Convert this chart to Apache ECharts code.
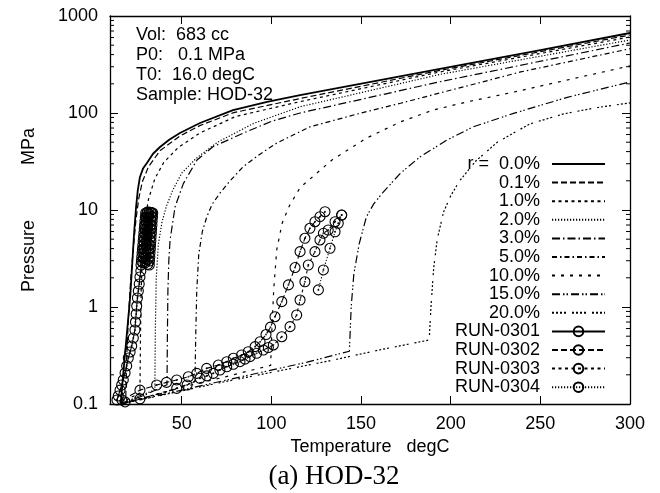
<!DOCTYPE html>
<html>
<head>
<meta charset="utf-8">
<title>HOD-32</title>
<script src="https://cdn.jsdelivr.net/npm/echarts@6.0.0/dist/echarts.min.js"></script>
<style>
  html, body { margin: 0; padding: 0; background: #fff; }
  #main { width: 660px; height: 493px; }
</style>
</head>
<body>
<div id="main"></div>
<script>
// model curves: [temperature degC, pressure MPa]
const r00 = [[16,0.1],[17,0.17],[18.5,0.35],[20,0.7],[21.3,1.3],[22.5,3],[23.5,6],[24.5,10.5],[25.5,16],[26.7,21.9],[28.5,27],[30.6,30.5],[34,38],[37.9,44.6],[43,53],[49,62.2],[60.2,78.9],[78.6,107],[97.6,130],[116,153],[194,285],[250,445],[300,668]]
const r01 = [[16,0.1],[17.5,0.108],[18.8,0.115],[19.3,0.3],[20.3,0.8],[21.6,2],[23,4],[24.5,8],[26,13],[28,19.5],[31.5,28],[38,41],[49,58],[60,74],[79,101],[116,141],[194,275],[300,637]]
const r1 = [[16,0.1],[21,0.115],[26.7,0.13],[27,0.5],[27.4,1.5],[28.2,4],[29.6,8],[31.5,13],[35,21],[40,31],[48,44],[60,62],[80,92],[116,131],[194,265],[300,607]]
const r2 = [[16,0.1],[25,0.118],[35,0.14],[35.3,0.6],[35.8,2],[37,4.5],[39,7.5],[41.5,11],[45,16],[50,24],[58,34],[70,50],[90,78],[116,116],[194,250],[300,566]]
const r3 = [[16,0.1],[30,0.125],[41.8,0.158],[42,0.5],[42.3,1.5],[42.8,3],[43.5,4.9],[46.3,10.8],[50.9,18.7],[58.4,32.6],[67.4,44.8],[84.3,62],[100,82],[116,100],[194,210],[300,527]]
const r5 = [[16,0.1],[40,0.13],[57.4,0.17],[57.8,0.5],[58.4,1.5],[59.5,3.5],[61.5,6],[64,8.5],[67,11.5],[71.4,15],[77,20],[84.3,28],[93,37],[103,49],[121.5,72],[150,100],[172,126],[239,265],[300,460]]
const r10 = [[16,0.1],[57,0.16],[74,0.19],[99.6,0.25],[100.3,0.6],[101.3,1.5],[103,3.9],[106,7.3],[110,11],[116,17],[134,33],[153,55],[172,81],[190,107],[209,130],[235,164],[300,306]]
const r15 = [[16,0.1],[74,0.175],[120,0.27],[143.5,0.35],[144.5,1],[146,2.2],[149,4.5],[153,8.5],[157,11.5],[162,15],[172,24],[183,35.4],[198,52.7],[212.6,72],[235,99],[265,145],[300,209]]
const r20 = [[16,0.1],[74,0.17],[133,0.28],[160,0.36],[188,0.457],[189,1],[190.5,2.5],[192.5,5],[196,9.5],[200,14],[205,20],[214,32],[226,50],[244,77],[263,98],[282,114],[300,127]]

// measured runs
const run0301 = [[13.9,0.110],[14.6,0.121],[15.6,0.139],[16.5,0.157],[17.4,0.177],[18.4,0.209],[19.3,0.247],[20.2,0.298],[21.2,0.344],[22.1,0.396],[23.0,0.479],[23.9,0.579],[24.2,0.700],[24.6,0.847],[24.9,1.023],[25.3,1.238],[25.8,1.462],[26.3,1.726],[26.7,2.04],[27.2,2.35],
  [27.3,2.71],[27.5,2.98],[27.7,3.27],[27.9,3.6],[28.1,3.96],[28.3,4.35],[28.5,4.79],[28.7,5.27],[28.9,5.79],[29.1,6.37],[29.3,7.0],[29.5,7.7],[29.7,8.47],[29.9,9.31],
  [30.8,9.5],[31.8,9.5],[32.8,9.4],
  [33.8,9.31],[33.7,8.47],[33.5,7.7],[33.4,7.0],[33.2,6.37],[33.1,5.79],[32.9,5.27],[32.8,4.79],[32.6,4.35],[32.5,3.96],[32.3,3.6],[32.2,3.27],[32.0,2.98],[31.9,2.71],
  [29.6,2.85],[29.8,3.3],[30.0,3.8],[30.2,4.3],[30.4,4.9],[30.6,5.5],[30.8,6.1],[31.0,6.8],[31.2,7.5],[31.4,8.3],[31.6,9.1],
  [30.6,9.2],[30.4,8.4],[30.2,7.6],[30.0,6.9],[29.8,6.2],[29.6,5.6],[29.4,5.0],[29.2,4.5],[29.0,4.0],[28.8,3.6],[28.6,3.2],[28.4,2.85],
  [31.0,2.75],[31.2,3.1],[31.4,3.5],[31.6,3.9],[31.8,4.4],[32.0,5.0],[32.2,5.6],[32.4,6.3],[32.6,7.0],[32.8,7.8],[33.0,8.6],[33.2,9.4]]
const run0302 = [[16.7,0.110],[26.7,0.139],[36.0,0.157],[41.5,0.167],[47.2,0.177],[53.7,0.191],[58.4,0.207],[63.9,0.233],[70.4,0.252],[75.1,0.273],[78.8,0.296],[83.4,0.320],[87.1,0.346],[90.9,0.390],[93.7,0.439],[97.0,0.52],[99.5,0.62],[102.0,0.794],[105.8,1.135],[109.5,1.69],[113.2,2.55],[116.0,3.72],[118.7,5.11],[121.5,6.48],[124.3,7.57],[127.1,8.53],[129.9,9.6]]
const run0303 = [[18.4,0.105],[26.7,0.113],[47.2,0.145],[53.0,0.157],[60.2,0.184],[64.0,0.195],[67.6,0.207],[71.3,0.224],[75.1,0.242],[78.8,0.257],[82.5,0.273],[85.3,0.29],[88.1,0.308],[91.8,0.333],[95.5,0.360],[98.3,0.382],[101.1,0.406],[105.8,0.494],[110.4,0.627],[114.1,0.827],[116.0,1.18],[118.7,1.82],[120.6,2.71],[124.3,3.72],[127.1,4.91],[129.0,5.75],[131.7,6.22],[135.5,7.57],[139.2,8.87]]
const run0304 = [[126.2,1.5],[129.0,2.41],[132.7,4.03],[135.5,5.97],[137.3,7.29],[139.2,8.87]]

const modelNames = ['r =  0.0%', '0.1%', '1.0%', '2.0%', '3.0%', '5.0%', '10.0%', '15.0%', '20.0%']
const runNames = ['RUN-0301', 'RUN-0302', 'RUN-0303', 'RUN-0304']

const xTicks = [50, 100, 150, 200, 250, 300]
const yTickLabels = ['0.1', '1', '10', '100', '1000']
const yMinorTicks = [0.2,0.3,0.4,0.5,0.6,0.7,0.8,0.9, 2,3,4,5,6,7,8,9, 20,30,40,50,60,70,80,90, 200,300,400,500,600,700,800,900]
const infoLines = ['Vol:  683 cc', 'P0:   0.1 MPa', 'T0:  16.0 degC', 'Sample: HOD-32']

const X_MIN = 10, X_MAX = 300
const FONT = '"Liberation Sans", Arial, sans-serif'

const modelData = [r00, r01, r1, r2, r3, r5, r10, r15, r20]
const runData = [run0301, run0302, run0303, run0304]
const dashes = ['solid', [6, 3], [3, 3.5], [1.2, 1.8], [8, 3, 1.5, 3], [5, 3, 1.5, 3], [3, 6], [8, 3, 1.5, 2, 1.5, 3], [2, 2, 2, 2, 2, 2, 2, 6]]
const runDashes = ['solid', [6, 3], [3, 3.5], [1.2, 1.8]]

const chart = echarts.init(document.getElementById('main'))

const series = []
modelNames.forEach((name, i) => {
  series.push({
    name: name,
    type: 'line',
    data: modelData[i],
    symbol: 'none',
    silent: true,
    lineStyle: { color: '#000', width: i === 0 ? 1.8 : 1.2, type: dashes[i] },
    itemStyle: { color: '#000' },
    z: 2
  })
})
runNames.forEach((name, i) => {
  series.push({
    name: name,
    type: 'line',
    data: runData[i],
    symbol: 'circle',
    symbolSize: 10,
    silent: true,
    lineStyle: { color: '#000', width: 1.1, type: runDashes[i] },
    itemStyle: { color: 'rgba(0,0,0,0)', borderColor: '#000', borderWidth: 1.1 },
    z: 3
  })
  // gnuplot puts a small dot in the middle of each point
  series.push({
    name: name + ' dot',
    type: 'scatter',
    data: runData[i],
    symbolSize: 2,
    silent: true,
    itemStyle: { color: '#000' },
    z: 4
  })
})
// minor ticks of the log axis (2..9 in each decade), both sides
series.push({
  name: 'minor',
  type: 'custom',
  silent: true,
  data: yMinorTicks.map(v => [X_MIN, v]),
  renderItem: function (params, api) {
    const v = api.value(1)
    const l = api.coord([X_MIN, v])
    const r = api.coord([X_MAX, v])
    return {
      type: 'group',
      children: [
        { type: 'line', shape: { x1: l[0], y1: l[1], x2: l[0] + 4, y2: l[1] }, style: { stroke: '#000', lineWidth: 1 } },
        { type: 'line', shape: { x1: r[0] - 4, y1: r[1], x2: r[0], y2: r[1] }, style: { stroke: '#000', lineWidth: 1 } }
      ]
    }
  }
})

const axisLine = { show: true, lineStyle: { color: '#000', width: 1.3 } }
const labelStyle = { color: '#000', fontSize: 18, fontFamily: FONT }

// model lines show no marker in the legend
const legendData = modelNames.map(n => ({ name: n, itemStyle: { opacity: 0 } })).concat(runNames)

const option = {
  animation: false,
  backgroundColor: '#fff',
  grid: { left: 110, right: 30, top: 16, bottom: 89 },
  xAxis: [
    {
      type: 'value', min: X_MIN, max: X_MAX, position: 'bottom',
      axisLine: axisLine,
      axisTick: { show: true, inside: true, length: 8, customValues: xTicks, lineStyle: { color: '#000' } },
      axisLabel: Object.assign({ customValues: xTicks, margin: 11 }, labelStyle),
      splitLine: { show: false },
      name: 'Temperature   degC', nameLocation: 'middle', nameGap: 32,
      nameTextStyle: labelStyle
    },
    {
      type: 'value', min: X_MIN, max: X_MAX, position: 'top',
      axisLine: axisLine,
      axisTick: { show: true, inside: true, length: 8, customValues: xTicks, lineStyle: { color: '#000' } },
      axisLabel: { show: false },
      splitLine: { show: false }
    }
  ],
  yAxis: [
    {
      type: 'log', logBase: 10, min: 0.1, max: 1000, position: 'left',
      axisLine: axisLine,
      axisTick: { show: true, inside: true, length: 8, lineStyle: { color: '#000' } },
      axisLabel: Object.assign({
        margin: 12,
        formatter: v => yTickLabels[Math.round(Math.log10(v)) + 1]
      }, labelStyle),
      splitLine: { show: false },
      name: 'Pressure           MPa', nameLocation: 'middle', nameGap: 72, nameRotate: 90,
      nameTextStyle: labelStyle
    },
    {
      type: 'log', logBase: 10, min: 0.1, max: 1000, position: 'right',
      axisLine: axisLine,
      axisTick: { show: true, inside: true, length: 8, lineStyle: { color: '#000' } },
      axisLabel: { show: false },
      splitLine: { show: false }
    }
  ],
  legend: {
    data: legendData,
    orient: 'vertical',
    right: 54,
    top: 155,
    align: 'right',
    padding: 0,
    itemWidth: 53,
    itemHeight: 12,
    itemGap: 0.6,
    selectedMode: false,
    textStyle: { color: '#000', fontSize: 18, fontFamily: FONT, width: 96, align: 'right', lineHeight: 18, padding: [0, 7, 0, 0] }
  },
  graphic: [
    {
      type: 'text', left: 136, top: 25,
      style: { text: infoLines.join('\n'), fill: '#000', font: '18px ' + FONT, lineHeight: 20 }
    },
    {
      type: 'text', x: 334, y: 477,
      style: { text: '(a) HOD-32', fill: '#000', font: '27px "Liberation Serif", "Times New Roman", serif', align: 'center', verticalAlign: 'middle' }
    }
  ],
  series: series
}

chart.setOption(option)
</script>
</body>
</html>
